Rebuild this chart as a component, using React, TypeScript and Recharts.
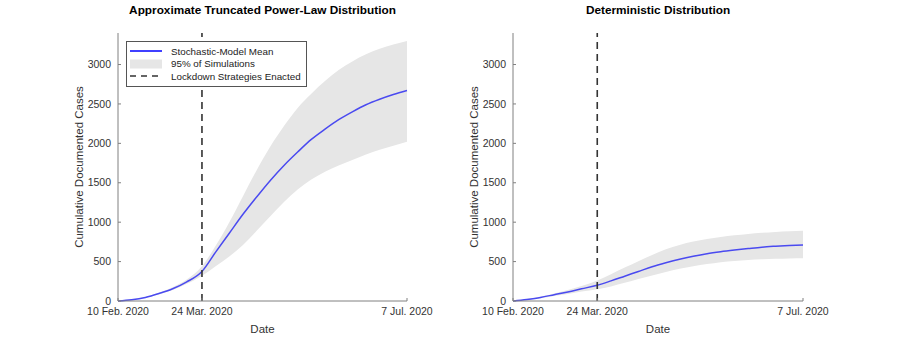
import React from "react";
import { ComposedChart, Area, Line, XAxis, YAxis, ReferenceLine, Legend } from "recharts";

// days since 10 Feb. 2020
const days = [0, 7, 14, 21, 28, 35, 43, 50, 57, 64, 71, 78, 85, 92, 99, 106, 113, 120, 127, 134, 141, 148];
const xTicks = [0, 43, 148];
const xTickLabels = ["10 Feb. 2020", "24 Mar. 2020", "7 Jul. 2020"];
const yTicks = [0, 500, 1000, 1500, 2000, 2500, 3000];
const lockdownDay = 43;

// Approximate truncated power-law distribution
const powerMean = [0, 15, 45, 95, 155, 240, 375, 620, 860, 1100, 1320, 1530, 1720, 1890, 2050, 2180, 2300, 2400, 2490, 2560, 2620, 2670];
const powerUpper = [0, 18, 52, 105, 175, 270, 440, 700, 1000, 1330, 1660, 1960, 2220, 2450, 2630, 2790, 2930, 3040, 3130, 3200, 3255, 3300];
const powerLower = [0, 12, 40, 85, 140, 215, 320, 440, 565, 710, 890, 1075, 1255, 1415, 1540, 1640, 1720, 1790, 1860, 1920, 1970, 2020];

// Deterministic distribution
const detMean = [0, 20, 45, 80, 115, 155, 200, 255, 315, 375, 435, 485, 530, 568, 600, 625, 646, 665, 683, 695, 705, 712];
const detUpper = [0, 25, 55, 95, 140, 190, 260, 340, 425, 505, 585, 655, 712, 755, 788, 813, 833, 850, 865, 876, 885, 892];
const detLower = [0, 15, 35, 65, 90, 120, 150, 185, 230, 278, 325, 368, 408, 440, 468, 492, 508, 520, 529, 535, 540, 542];

const FONT = "'Liberation Sans', Arial, Helvetica, sans-serif";
const AXIS = "#808080";
const TEXT = "#333333";
const BAND = "#e6e6e6";
const MEAN = "#4a4af0";

const buildRows = (mean: number[], lo: number[], hi: number[]) =>
  days.map((d, i) => ({ day: d, mean: mean[i], band: [lo[i], hi[i]] }));

const YLabel = (props: any) => {
  const vb = props.viewBox;
  const x = vb.x + 11;
  const y = vb.y + vb.height / 2;
  return (
    <text x={x} y={y} transform={`rotate(-90 ${x} ${y})`} textAnchor="middle" dominantBaseline="central"
      fontSize={11.5} fill={TEXT} fontFamily={FONT}>
      Cumulative Documented Cases
    </text>
  );
};

const XLabel = (props: any) => {
  const vb = props.viewBox;
  return (
    <text x={vb.x + vb.width / 2} y={vb.y + 28} textAnchor="middle" dominantBaseline="central"
      fontSize={11.5} fill={TEXT} fontFamily={FONT}>
      Date
    </text>
  );
};

const LegendBox = () => {
  const row = { display: "flex", alignItems: "center", height: 12.5, whiteSpace: "nowrap" } as const;
  return (
    <div style={{ border: "1px solid #555", background: "#fff", padding: "3px 0 3px 3px", fontFamily: FONT, fontSize: 9.8, color: "#222", width: 181, boxSizing: "border-box" as const }}>
      <div style={row}>
        <svg width={32} height={10}><line x1={0} y1={5} x2={32} y2={5} stroke="#0000ff" strokeWidth={1.5} /></svg>
        <span style={{ marginLeft: 9 }}>Stochastic-Model Mean</span>
      </div>
      <div style={row}>
        <svg width={32} height={10}><rect x={0} y={0.5} width={32} height={9} fill={BAND} /></svg>
        <span style={{ marginLeft: 9 }}>95% of Simulations</span>
      </div>
      <div style={row}>
        <svg width={32} height={10}><line x1={0} y1={5} x2={32} y2={5} stroke="#333" strokeWidth={1.5} strokeDasharray="6 5" /></svg>
        <span style={{ marginLeft: 9 }}>Lockdown Strategies Enacted</span>
      </div>
    </div>
  );
};

function Panel({ title, rows, marginLeft, marginRight, left, legend }: any) {
  const plotLeft = marginLeft + 50;
  const plotWidth = 450 - plotLeft - marginRight;
  return (
    <div style={{ position: "absolute", left, top: 0, width: 450, height: 339 }}>
      <div style={{ position: "absolute", left: plotLeft, width: plotWidth, top: 3, textAlign: "center", fontFamily: FONT, fontWeight: "bold", fontSize: 11.8, color: "#000", whiteSpace: "nowrap" }}>
        {title}
      </div>
      <ComposedChart width={450} height={339} data={rows}
        margin={{ top: 33, right: marginRight, bottom: 8, left: marginLeft }}>
        <XAxis dataKey="day" type="number" domain={[0, 148]} ticks={xTicks}
          tickFormatter={(v: number) => xTickLabels[xTicks.indexOf(v)]}
          height={30} stroke={AXIS} tickSize={-3} tickMargin={10}
          tick={{ fontSize: 10.5, fill: TEXT, fontFamily: FONT }} label={<XLabel />} />
        <YAxis type="number" domain={[0, 3400]} ticks={yTicks} width={50} stroke={AXIS}
          tickSize={-3} tickMargin={10} interval={0}
          tick={{ fontSize: 10.5, fill: TEXT, fontFamily: FONT }} label={<YLabel />} />
        <Area dataKey="band" type="monotone" fill={BAND} fillOpacity={1} stroke="none" isAnimationActive={false} />
        <Line dataKey="mean" type="monotone" stroke={MEAN} strokeWidth={1.5} dot={false} isAnimationActive={false} />
        <ReferenceLine x={lockdownDay} stroke="#333" strokeWidth={1.6} strokeDasharray="7 5" />
        {legend && (
          <Legend layout="vertical" align="center" verticalAlign="middle" content={<LegendBox />}
            wrapperStyle={{ left: 126, top: 41, width: 181 }} />
        )}
      </ComposedChart>
    </div>
  );
}

export default function App() {
  return (
    <div style={{ position: "absolute", left: 0, top: 0, width: 900, height: 339, background: "#fff" }}>
      <Panel title="Approximate Truncated Power-Law Distribution" rows={buildRows(powerMean, powerLower, powerUpper)}
        marginLeft={68} marginRight={43} left={0} legend />
      <Panel title="Deterministic Distribution" rows={buildRows(detMean, detLower, detUpper)}
        marginLeft={13} marginRight={97} left={450} legend={false} />
    </div>
  );
}
